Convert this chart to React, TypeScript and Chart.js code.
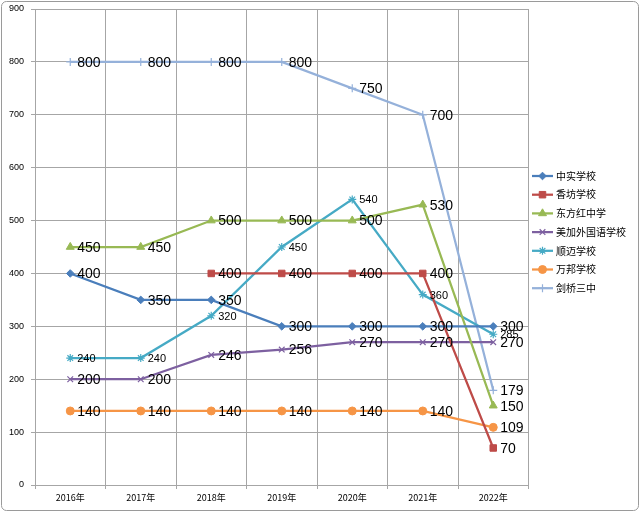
import React, { useEffect, useRef } from "react";
import { Chart, registerables } from "chart.js";
import { drawPoint } from "chart.js/helpers";

Chart.register(...registerables);

const categories = ["2016年", "2017年", "2018年", "2019年", "2020年", "2021年", "2022年"];
const seriesNames = ["中实学校", "香坊学校", "东方红中学", "美加外国语学校", "顺迈学校", "万邦学校", "剑桥三中"];
const zhongshi = [400, 350, 350, 300, 300, 300, 300];
const xiangfang = [null, null, 400, 400, 400, 400, 70];
const dongfanghong = [450, 450, 500, 500, 500, 530, 150];
const meijia = [200, 200, 246, 256, 270, 270, 270];
const shunmai = [240, 240, 320, 450, 540, 360, 285];
const wanbang = [140, 140, 140, 140, 140, 140, 109];
const jianqiao = [800, 800, 800, 800, 750, 700, 179];
const yTicks = [0, 100, 200, 300, 400, 500, 600, 700, 800, 900];

const colors = ["#4A7EBB", "#BE4B48", "#98B954", "#7D60A0", "#46AAC5", "#F69546", "#95B1DA"];
const pointStyles = ["rectRot", "rect", "triangle", "crossRot", "star", "circle", "cross"];
const pointRadii = [3.8, 4.6, 4.6, 4, 4, 4, 4];
const labelSizes = [14, 14, 14, 14, 11, 14, 14];

const labelPlugin = {
  id: "valueLabels",
  afterDatasetsDraw(chart: any) {
    const ctx = chart.ctx;
    ctx.save();
    ctx.fillStyle = "#000";
    ctx.textBaseline = "middle";
    ctx.textAlign = "left";
    chart.data.datasets.forEach((ds: any, i: number) => {
      const meta = chart.getDatasetMeta(i);
      ctx.font = `${labelSizes[i]}px "Liberation Sans", Arial, sans-serif`;
      meta.data.forEach((pt: any, j: number) => {
        const v = ds.data[j];
        if (v === null || v === undefined) return;
        ctx.fillText(String(v), pt.x + 7, pt.y + 1);
      });
    });
    ctx.restore();
  },
};

const legendPlugin = {
  id: "customLegend",
  afterDraw(chart: any) {
    const ctx = chart.ctx;
    const spacing = 18.7;
    const y0 = 176;
    ctx.save();
    chart.data.datasets.forEach((ds: any, i: number) => {
      const y = y0 + i * spacing;
      ctx.strokeStyle = ds.borderColor;
      ctx.lineWidth = 2.25;
      ctx.beginPath();
      ctx.moveTo(532, y);
      ctx.lineTo(553, y);
      ctx.stroke();
      ctx.fillStyle = ds.pointBackgroundColor;
      ctx.strokeStyle = ds.pointBorderColor;
      ctx.lineWidth = ds.pointBorderWidth;
      drawPoint(ctx, { pointStyle: ds.pointStyle, radius: ds.pointRadius, rotation: 0, borderWidth: ds.pointBorderWidth }, 542.5, y);
      ctx.fillStyle = "#000";
      ctx.font = '10px "Noto Sans CJK SC", sans-serif';
      ctx.textBaseline = "middle";
      ctx.textAlign = "left";
      ctx.fillText(ds.label, 556, y);
    });
    ctx.strokeStyle = "#9a9a9a";
    ctx.lineWidth = 1;
    ctx.beginPath();
    (ctx as any).roundRect(1.5, 1.5, 637, 509, 5);
    ctx.stroke();
    ctx.restore();
  },
};

export default function App() {
  const ref = useRef<HTMLCanvasElement>(null);
  useEffect(() => {
    document.body.style.margin = "0";
    const series = [zhongshi, xiangfang, dongfanghong, meijia, shunmai, wanbang, jianqiao];
    const chart = new Chart(ref.current as HTMLCanvasElement, {
      type: "line",
      data: {
        labels: categories,
        datasets: series.map((d, i) => ({
          label: seriesNames[i],
          data: d,
          borderColor: colors[i],
          backgroundColor: colors[i],
          borderWidth: 2.25,
          pointStyle: pointStyles[i],
          pointRadius: pointRadii[i],
          pointBackgroundColor: colors[i],
          pointBorderColor: colors[i],
          pointBorderWidth: ["crossRot", "star", "cross"].includes(pointStyles[i]) ? 1.2 : 1,
          tension: 0,
          spanGaps: false,
        })),
      },
      options: {
        animation: false,
        responsive: false,
        devicePixelRatio: 1,
        layout: { padding: { left: 0, top: 9, right: 111.5, bottom: 0 } },
        plugins: { legend: { display: false }, tooltip: { enabled: false } },
        scales: {
          x: {
            offset: true,
            grid: { offset: true, color: "#a6a6a6", lineWidth: 1, tickLength: 4, drawTicks: true },
            border: { color: "#a6a6a6" },
            ticks: { color: "#000", font: { size: 9, family: '"Noto Sans CJK SC", "Liberation Sans", sans-serif' }, padding: 3, maxRotation: 0 },
            afterFit: (s: any) => { s.height = 27; s.paddingLeft = 0; s.paddingRight = 0; },
          },
          y: {
            min: 0,
            max: 900,
            afterBuildTicks: (s: any) => { s.ticks = yTicks.map((v) => ({ value: v })); },
            grid: { color: "#a6a6a6", lineWidth: 1, tickLength: 4 },
            border: { color: "#a6a6a6" },
            ticks: { color: "#000", font: { size: 9, family: '"Liberation Sans", Arial, sans-serif' }, padding: 7 },
            afterFit: (s: any) => { s.width = 35; s.paddingTop = 0; s.paddingBottom = 0; },
          },
        },
      },
      plugins: [labelPlugin, legendPlugin],
    });
    return () => chart.destroy();
  }, []);
  return <canvas ref={ref} width={640} height={512} style={{ display: "block", width: 640, height: 512 }} />;
}
